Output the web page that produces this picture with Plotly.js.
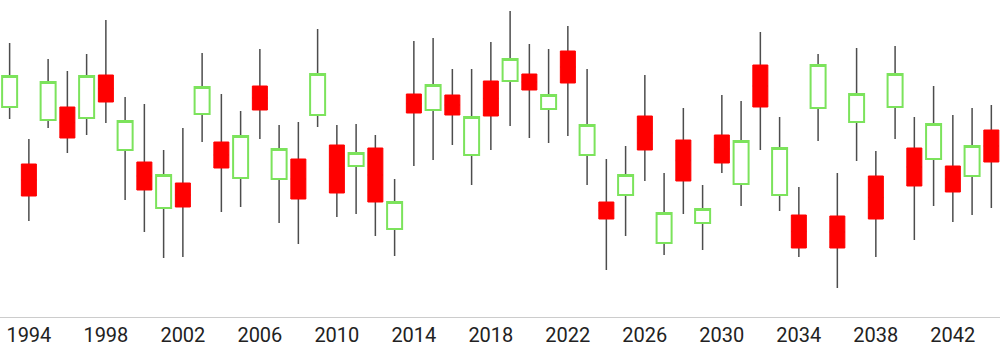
<!DOCTYPE html>
<html>
<head>
<meta charset="utf-8">
<script src="https://cdn.plot.ly/plotly-3.0.1.min.js"></script>
<style>
  html, body { margin: 0; padding: 0; background: #fff; }
  #chart { width: 1000px; height: 347px; }
</style>
</head>
<body>
<div id="chart"></div>
<script>
const years = [];
for (let y = 1993; y <= 2044; y++) years.push(y);

const openVals = [21.0,15.3,19.7,21.0,19.9,24.2,16.7,15.5,10.9,13.4,20.3,17.5,13.9,23.1,13.8,15.8,20.2,17.2,15.1,16.9,8.8,22.3,20.7,22.2,16.2,23.6,23.6,24.3,20.8,26.6,16.2,11.5,12.2,20.1,7.4,17.7,9.4,18.2,13.3,25.2,12.2,10.2,20.9,10.1,19.5,14.1,21.0,16.9,15.8,15.1,14.1,18.7];
const highVals = [27.4,17.8,25.8,24.6,26.3,29.7,22.0,21.3,16.7,18.9,26.4,22.3,20.6,26.8,19.2,19.5,28.8,19.2,19.3,18.2,13.8,27.6,27.9,24.8,24.8,27.5,30.6,27.3,26.8,29.1,24.8,15.8,17.1,24.2,14.4,20.9,13.2,22.2,21.6,28.5,20.0,13.0,26.3,14.4,26.9,16.6,27.1,20.0,23.1,20.2,20.9,21.2];
const lowVals = [19.8,9.6,18.9,16.4,18.2,19.4,11.7,8.5,5.9,6.0,17.5,10.5,11.0,17.8,9.4,7.3,19.0,10.0,10.3,8.1,6.1,15.1,15.7,17.2,13.2,16.7,19.1,17.9,17.4,18.1,13.2,4.7,8.1,13.6,6.2,10.3,6.7,14.4,11.1,16.7,10.6,6.0,17.6,2.9,15.6,6.0,17.8,7.7,11.1,9.5,10.2,10.9];
const closeVals = [24.1,12.1,23.5,17.9,24.1,21.5,19.6,12.7,14.2,11.0,23.0,14.9,18.1,20.7,16.8,11.8,24.3,12.4,16.4,11.5,11.5,20.4,23.2,20.2,20.0,20.1,25.8,22.7,22.2,23.4,19.2,9.8,14.2,16.7,10.4,13.6,10.8,15.4,17.6,21.0,16.9,6.9,25.2,6.9,22.3,9.8,24.3,13.1,19.3,12.5,17.1,15.5];

const tickYears = [1994,1998,2002,2006,2010,2014,2018,2022,2026,2030,2034,2038,2042];

// body-only helper series (derived)
const bodyTop = openVals.map((o, i) => Math.max(o, closeVals[i]));
const bodyBot = openVals.map((o, i) => Math.min(o, closeVals[i]));
const mid = openVals.map((o, i) => (o + closeVals[i]) / 2);

const GREEN = '#7ce35c';
const RED = '#ff0000';
const WICK = '#4d4d4d';

const wicks = {
  type: 'candlestick',
  x: years,
  open: mid, close: mid, high: highVals, low: lowVals,
  increasing: { line: { color: WICK, width: 1.5 }, fillcolor: WICK },
  decreasing: { line: { color: WICK, width: 1.5 }, fillcolor: WICK },
  whiskerwidth: 0,
  hoverinfo: 'skip',
  showlegend: false
};

const bodies = {
  type: 'candlestick',
  x: years,
  open: openVals, close: closeVals, high: bodyTop, low: bodyBot,
  increasing: { line: { color: GREEN, width: 2 }, fillcolor: '#ffffff' },
  decreasing: { line: { color: RED, width: 1 }, fillcolor: RED },
  whiskerwidth: 0,
  showlegend: false
};

const layout = {
  width: 1000, height: 347,
  margin: { l: 0, r: 0, t: 0, b: 30, pad: 0 },
  paper_bgcolor: '#ffffff', plot_bgcolor: '#ffffff',
  showlegend: false,
  hovermode: false,
  boxmode: 'overlay',
  boxgap: 0.22,
  boxgroupgap: 0,
  font: { family: 'Roboto, sans-serif', size: 20, color: '#222222' },
  xaxis: {
    range: [1992.5, 2044.45],
    tickmode: 'array',
    tickvals: tickYears,
    ticktext: tickYears.map(String),
    showgrid: false, zeroline: false,
    showline: true, linecolor: '#cccccc', linewidth: 1,
    ticks: '',
    rangeslider: { visible: false },
    tickfont: { family: 'Roboto, sans-serif', size: 20, color: '#222222' }
  },
  yaxis: {
    range: [0, 31.7],
    visible: false, showgrid: false, zeroline: false
  }
};

Plotly.newPlot('chart', [wicks, bodies], layout, { staticPlot: true, displayModeBar: false });
</script>
</body>
</html>
